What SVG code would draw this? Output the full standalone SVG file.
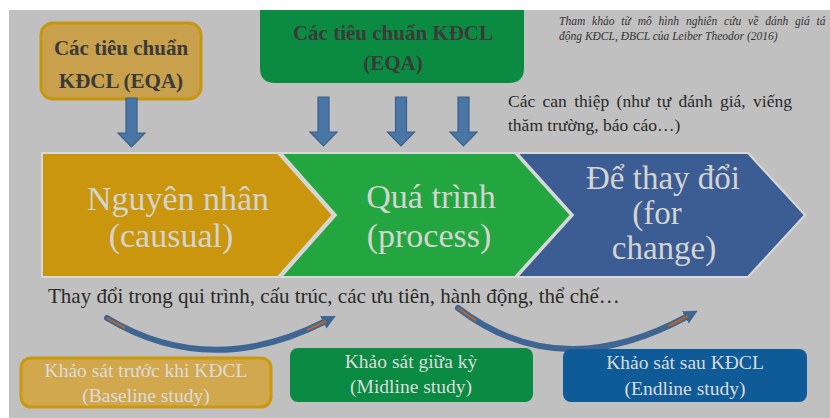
<svg xmlns="http://www.w3.org/2000/svg" width="830" height="418" viewBox="0 0 830 418">
<style>
text{font-family:"Liberation Serif","DejaVu Serif","Times New Roman",serif}
.hd{font-size:21px;font-weight:bold;fill:#3a3a3a;text-anchor:middle}
.big{font-size:34px;fill:#d4d4d0;text-anchor:middle}
.big2{font-size:33px;fill:#d4d4d0;text-anchor:middle}
.bot{font-size:19.5px;fill:#dcdcdc;text-anchor:middle}
.note{font-size:11.5px;font-style:italic;fill:#333}
.body{fill:#2a2a2a}
.blk{fill:#4a76a6;stroke:#3b5f88;stroke-width:1.2}
.chev{stroke:#d8d8d8;stroke-width:2}
.curve{fill:none;stroke:#3f6592;stroke-width:6;stroke-linecap:round}
.hl{fill:none;stroke:#b8662a;stroke-width:2}
</style>
<defs>
<path id="down" d="M-5.5,0 H5.5 V35 H13.5 L0,49 L-13.5,35 H-5.5 Z"/>
<marker id="ah" markerUnits="userSpaceOnUse" markerWidth="16" markerHeight="16" refX="3" refY="7" orient="auto" viewBox="0 0 16 14">
<path d="M0,0 L14,7 L0,14 Z" fill="#3f6592"/>
</marker>
</defs>
<rect x="0" y="0" width="830" height="418" fill="#ffffff"/>
<rect x="9" y="10" width="821" height="408" fill="#c0c0c0"/>

<g id="eqa-left">
<rect x="41" y="23" width="160" height="76" rx="12" fill="#c9a14c" stroke="#c8950f" stroke-width="3"/>
<text class="hd" x="121" y="55">Các tiêu chuẩn</text>
<text class="hd" x="121" y="88">KĐCL (EQA)</text>
</g>

<g id="eqa-top">
<path d="M260,10 H524 V68 Q524,83 509,83 H275 Q260,83 260,68 Z" fill="#0b8a42"/>
<text class="hd" x="393" y="40">Các tiêu chuẩn KĐCL</text>
<text class="hd" x="393" y="70">(EQA)</text>
</g>

<g id="note">
<text class="note" x="559" y="25" word-spacing="4">Tham khảo từ mô hình nghiên cứu về đánh giá tá</text>
<text class="note" x="559" y="40">động KĐCL, ĐBCL của Leiber Theodor (2016)</text>
</g>

<g id="interventions">
<text class="body" x="508" y="107" font-size="17.5" word-spacing="3">Các can thiệp (như tự đánh giá, viếng</text>
<text class="body" x="508" y="131" font-size="17.5">thăm trường, báo cáo…)</text>
</g>

<g id="down-arrows">
<use href="#down" class="blk" x="131.5" y="98"/>
<use href="#down" class="blk" x="323.5" y="97"/>
<use href="#down" class="blk" x="401" y="97"/>
<use href="#down" class="blk" x="463.5" y="97"/>
</g>

<g id="causal">
<path class="chev" d="M42,153 H278 L333,215 L278,277 H42 Z" fill="#c9960e"/>
<text class="big" x="178" y="210">Nguyên nhân</text>
<text class="big" x="171" y="247">(causual)</text>
</g>

<g id="process">
<path class="chev" d="M281,153 H515 L571,215 L515,277 H281 L336,215 Z" fill="#23a640"/>
<text class="big" x="431" y="208">Quá trình</text>
<text class="big" x="429" y="247">(process)</text>
</g>

<g id="change">
<path class="chev" d="M517,153 H748 L805,215 L748,277 H517 L573,215 Z" fill="#3c5c94"/>
<text class="big2" x="663" y="189">Để thay đổi</text>
<text class="big2" x="657" y="224">(for</text>
<text class="big2" x="664" y="259">change)</text>
</g>

<g id="changes-text">
<text class="body" x="48" y="303" font-size="21">Thay đổi trong qui trình, cấu trúc, các ưu tiên, hành động, thể chế…</text>
</g>

<g id="connectors">
<path class="curve" d="M107,318 Q210,380 326,321" marker-end="url(#ah)"/>
<path class="hl" d="M107,318 Q210,380 326,321" pathLength="100" stroke-dasharray="9 82 9"/>
<path class="curve" d="M458,308 Q560,386 688,316" marker-end="url(#ah)"/>
<path class="hl" d="M458,308 Q560,386 688,316" pathLength="100" stroke-dasharray="9 82 9"/>
</g>

<g id="baseline">
<rect x="21" y="358" width="250" height="49" rx="10" fill="#d2a84e" stroke="#c8980f" stroke-width="3"/>
<text class="bot" x="146" y="377">Khảo sát trước khi KĐCL</text>
<text class="bot" x="146" y="402">(Baseline study)</text>
</g>

<g id="midline">
<rect x="290" y="348" width="243" height="54" rx="8" fill="#0b8a43"/>
<text class="bot" x="411" y="368">Khảo sát giữa kỳ</text>
<text class="bot" x="411" y="393">(Midline study)</text>
</g>

<g id="endline">
<rect x="563" y="349" width="244" height="53" rx="8" fill="#0f5b98"/>
<text class="bot" x="685" y="369">Khảo sát sau KĐCL</text>
<text class="bot" x="685" y="395">(Endline study)</text>
</g>
</svg>
